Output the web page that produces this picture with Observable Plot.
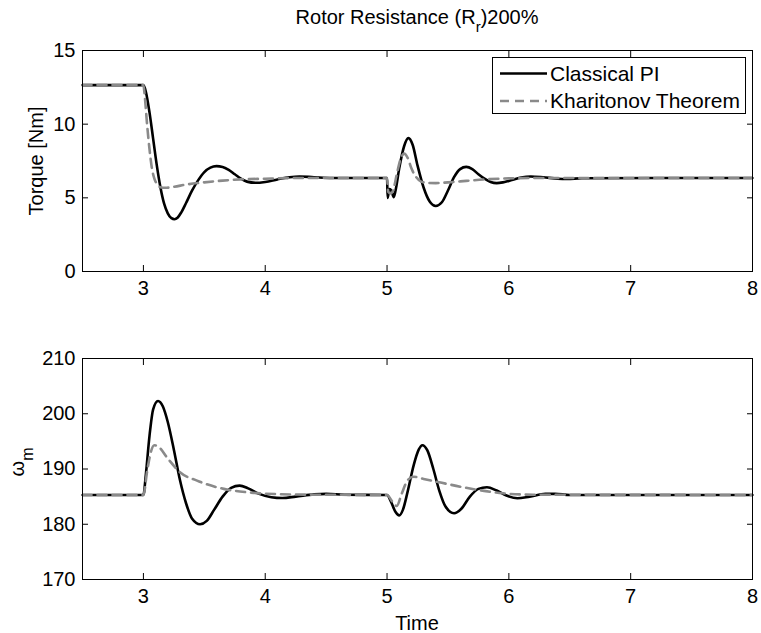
<!DOCTYPE html>
<html><head><meta charset="utf-8">
<script src="https://cdn.jsdelivr.net/npm/d3@7"></script>
<script src="https://cdn.jsdelivr.net/npm/@observablehq/plot@0.6"></script>
<style>
body{margin:0;background:#fff;}
#wrap{position:relative;width:761px;height:633px;font-family:"Liberation Sans",Arial,Helvetica,sans-serif;background:#fff;}
.pane{position:absolute;left:0;}
#overlay{position:absolute;left:0;top:0;pointer-events:none;}
</style></head><body>
<div id="wrap">
  <div class="pane" id="topPane" style="top:0px"></div>
  <div class="pane" id="bottomPane" style="top:330px"></div>
  <svg id="overlay" width="761" height="633" font-family="Liberation Sans, Arial, Helvetica, sans-serif" font-size="20" fill="#000"></svg>
</div>
<script>
// ---- Text ----
const titleMain = "Rotor Resistance (R";
const titleSub = "r";
const titleEnd = ")200%";
const yLabelTop = "Torque [Nm]";
const yLabelBottomMain = "ω";
const yLabelBottomSub = "m";
const xLabel = "Time";
const seriesNames = ["Classical PI", "Kharitonov Theorem"];

// ---- Ticks ----
const xTicks = [3, 4, 5, 6, 7, 8];
const xDomain = [2.5, 8];
const torqueTicks = [0, 5, 10, 15];
const torqueDomain = [0, 15];
const speedTicks = [170, 180, 190, 200, 210];
const speedDomain = [170, 210];

// ---- Torque: Classical PI ----
const tTorqueClassical = [2.5, 3.0, 3.02, 3.05, 3.08, 3.11, 3.14, 3.17, 3.20, 3.23, 3.255, 3.28, 3.31, 3.35, 3.40, 3.45, 3.50, 3.55, 3.60, 3.65, 3.70, 3.75, 3.80, 3.85, 3.92, 4.00, 4.10, 4.20, 4.28, 4.40, 4.55, 5.00, 5.005, 5.02, 5.035, 5.055, 5.07, 5.10, 5.14, 5.175, 5.21, 5.25, 5.30, 5.35, 5.40, 5.45, 5.50, 5.55, 5.60, 5.65, 5.70, 5.75, 5.80, 5.85, 5.90, 5.95, 6.00, 6.10, 6.18, 6.28, 6.40, 6.48, 6.60, 8.0];
const torqueClassical = [12.65, 12.65, 12.2, 10.8, 9.0, 7.2, 5.7, 4.6, 3.95, 3.62, 3.55, 3.65, 4.0, 4.65, 5.5, 6.2, 6.75, 7.05, 7.15, 7.1, 6.9, 6.6, 6.3, 6.1, 6.02, 6.08, 6.25, 6.4, 6.45, 6.4, 6.35, 6.35, 5.0, 5.6, 5.5, 5.05, 5.5, 7.0, 8.5, 9.05, 8.6, 7.2, 5.7, 4.75, 4.45, 4.7, 5.5, 6.4, 6.95, 7.1, 6.95, 6.6, 6.3, 6.08, 6.0, 6.05, 6.15, 6.38, 6.45, 6.4, 6.3, 6.28, 6.33, 6.35];

// ---- Torque: Kharitonov Theorem ----
const tTorqueKharitonov = [2.5, 3.0, 3.01, 3.03, 3.05, 3.07, 3.09, 3.11, 3.14, 3.18, 3.25, 3.35, 3.5, 3.65, 3.8, 4.0, 4.3, 5.0, 5.01, 5.03, 5.05, 5.08, 5.11, 5.14, 5.17, 5.20, 5.24, 5.28, 5.33, 5.40, 5.50, 5.65, 5.80, 6.00, 6.30, 8.0];
const torqueKharitonov = [12.65, 12.65, 12.0, 10.0, 8.3, 7.0, 6.3, 5.95, 5.72, 5.68, 5.75, 5.9, 6.05, 6.17, 6.25, 6.3, 6.35, 6.35, 5.4, 5.3, 5.5, 6.6, 7.6, 8.0, 7.7, 7.0, 6.4, 6.1, 6.02, 6.0, 6.05, 6.15, 6.25, 6.32, 6.35, 6.35];

// ---- Speed: Classical PI ----
const tSpeedClassical = [2.5, 3.0, 3.02, 3.05, 3.08, 3.12, 3.16, 3.20, 3.25, 3.30, 3.35, 3.40, 3.465, 3.52, 3.58, 3.65, 3.72, 3.79, 3.86, 3.95, 4.05, 4.14, 4.25, 4.40, 4.50, 4.65, 5.00, 5.03, 5.07, 5.10, 5.13, 5.17, 5.22, 5.26, 5.29, 5.33, 5.38, 5.43, 5.48, 5.55, 5.61, 5.68, 5.75, 5.82, 5.90, 5.98, 6.07, 6.17, 6.30, 6.38, 6.50, 8.0];
const speedClassical = [185.3, 185.3, 189, 196, 200.8, 202.3, 201.3, 198.5, 193.5, 188, 183.8, 181.0, 180.0, 180.6, 182.6, 185.0, 186.6, 187.0, 186.5, 185.5, 184.9, 184.75, 185.0, 185.4, 185.5, 185.35, 185.3, 184.2, 182.2, 181.6, 182.6, 186, 190.8, 193.5, 194.3, 193.4, 190, 186, 183.2, 182.0, 182.8, 185, 186.4, 186.7, 186.1, 185.2, 184.7, 185.0, 185.5, 185.5, 185.3, 185.3];

// ---- Speed: Kharitonov Theorem ----
const tSpeedKharitonov = [2.5, 3.0, 3.03, 3.06, 3.09, 3.12, 3.2, 3.3, 3.44, 3.66, 3.85, 4.1, 4.4, 5.0, 5.04, 5.08, 5.12, 5.17, 5.22, 5.30, 5.45, 5.60, 5.75, 5.95, 6.2, 8.0];
const speedKharitonov = [185.3, 185.3, 189.5, 193.0, 194.3, 194.1, 191.9, 189.4, 187.9, 186.4, 185.8, 185.45, 185.35, 185.3, 184.2, 183.3, 185.5, 188.0, 188.6, 188.2, 187.5, 186.8, 186.2, 185.6, 185.35, 185.3];

const zip = (ts, vs) => ts.map((t, i) => ({t, v: vs[i]}));

const FONT = "Liberation Sans, Arial, Helvetica, sans-serif";
const FS = 20;
const LEGEND_FS = 21;
const styleClassical = {stroke: "#000", strokeWidth: 2.6, strokeDasharray: null};
const styleKharitonov = {stroke: "#8a8a8a", strokeWidth: 2.6, strokeDasharray: "9,6"};
const fmt = d => String(d);

function panel(seriesA, seriesB, yDomain, yTicks, height, mTop, mBottom) {
  return Plot.plot({
    width: 761,
    height,
    marginLeft: 82,
    marginRight: 9,
    marginTop: mTop,
    marginBottom: mBottom,
    style: {fontFamily: FONT, fontSize: FS + "px", background: "transparent", color: "#000", overflow: "visible"},
    x: {domain: xDomain},
    y: {domain: yDomain},
    marks: [
      Plot.line(seriesA, {x: "t", y: "v", stroke: styleClassical.stroke, strokeWidth: styleClassical.strokeWidth, curve: "monotone-x"}),
      Plot.line(seriesB, {x: "t", y: "v", stroke: styleKharitonov.stroke, strokeWidth: styleKharitonov.strokeWidth, strokeDasharray: styleKharitonov.strokeDasharray, curve: "monotone-x"}),
      Plot.frame({stroke: "#000", strokeWidth: 1}),
      Plot.axisX({anchor: "bottom", ticks: xTicks, tickSize: 0, tickPadding: 9, fontSize: FS, tickFormat: fmt, label: null}),
      Plot.axisX({anchor: "bottom", ticks: xTicks, tickSize: -6, tickFormat: () => "", label: null}),
      Plot.axisX({anchor: "top", ticks: xTicks, tickSize: -6, tickFormat: () => "", label: null}),
      Plot.axisY({anchor: "left", ticks: yTicks, tickSize: 0, tickPadding: 7, fontSize: FS, tickFormat: fmt, label: null}),
      Plot.axisY({anchor: "left", ticks: yTicks, tickSize: -6, tickFormat: () => "", label: null}),
      Plot.axisY({anchor: "right", ticks: yTicks, tickSize: -6, tickFormat: () => "", label: null})
    ]
  });
}

document.getElementById("topPane").appendChild(
  panel(zip(tTorqueClassical, torqueClassical), zip(tTorqueKharitonov, torqueKharitonov), torqueDomain, torqueTicks, 300, 50, 29)
);
document.getElementById("bottomPane").appendChild(
  panel(zip(tSpeedClassical, speedClassical), zip(tSpeedKharitonov, speedKharitonov), speedDomain, speedTicks, 303, 28, 54)
);

// ---- Overlay: title, axis labels, legend ----
const ov = d3.select("#overlay");
const title = ov.append("text").attr("x", 417).attr("y", 24).attr("text-anchor", "middle");
title.append("tspan").text(titleMain);
title.append("tspan").attr("dy", 8).attr("font-size", 15).text(titleSub);
title.append("tspan").attr("dy", -8).text(titleEnd);

ov.append("text").attr("transform", "translate(43,161) rotate(-90)").attr("text-anchor", "middle").text(yLabelTop);
const yl = ov.append("text").attr("transform", "translate(24,462) rotate(-90)").attr("text-anchor", "middle");
yl.append("tspan").text(yLabelBottomMain);
yl.append("tspan").attr("dy", 9).attr("font-size", 16).text(yLabelBottomSub);

ov.append("text").attr("x", 417).attr("y", 630).attr("text-anchor", "middle").text(xLabel);

// legend
const lg = ov.append("g");
lg.append("rect").attr("x", 492.5).attr("y", 57.5).attr("width", 253).attr("height", 56).attr("fill", "#fff").attr("stroke", "#000").attr("stroke-width", 1);
const legendStyles = [styleClassical, styleKharitonov];
seriesNames.forEach((name, i) => {
  const cy = 73.5 + i * 27.5;
  const s = legendStyles[i];
  const ln = lg.append("line").attr("x1", 500).attr("x2", 547).attr("y1", cy).attr("y2", cy)
    .attr("stroke", s.stroke).attr("stroke-width", s.strokeWidth);
  if (s.strokeDasharray) ln.attr("stroke-dasharray", s.strokeDasharray);
  lg.append("text").attr("x", 550).attr("y", cy + 7).attr("font-size", LEGEND_FS).text(name);
});
</script>
</body></html>
